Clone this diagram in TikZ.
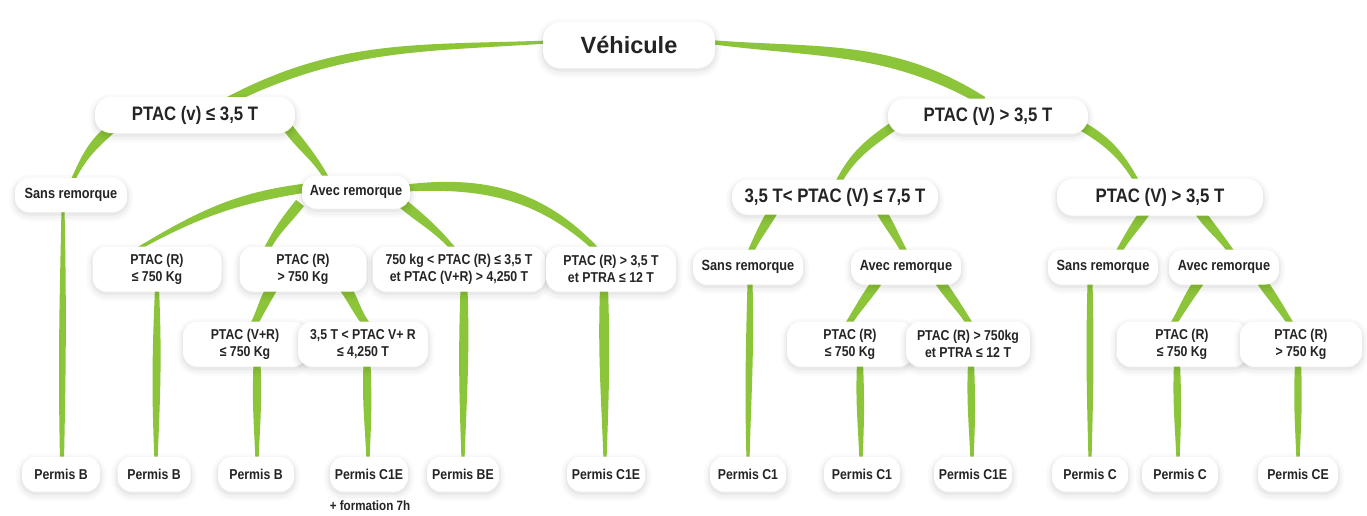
\documentclass[tikz,border=0pt]{standalone}
\usepackage{fontspec}
\newfontfamily\cond{Liberation Sans}[FakeStretch=0.86]
\newfontfamily\wideff{Liberation Sans}
\usetikzlibrary{calc}
\pgfdeclarelayer{bg}
\pgfsetlayers{bg,main}
\definecolor{leafc}{RGB}{140,196,58}
\definecolor{txt}{RGB}{36,36,36}
% #1 node A, #2 offset A, #3 node B, #4 offset B, #5 out angle, #6 in angle, #7 width A, #8 width B, #9 bulge
\newcommand\blade[9]{%
 \pgfmathsetmacro\bAl{#5+90}\pgfmathsetmacro\bAr{#5-90}%
 \pgfmathsetmacro\bBl{#6-90}\pgfmathsetmacro\bBr{#6+90}%
 \pgfmathsetmacro\bo{#5+#9}\pgfmathsetmacro\bi{#6-#9}%
 \pgfmathsetmacro\bob{#6+#9}\pgfmathsetmacro\bib{#5-#9}%
 \pgfmathsetmacro\hA{#7/2}\pgfmathsetmacro\hB{#8/2}%
 \fill[leafc] ($(#1)+(#2)+(\bAl:\hA)$) to[out=\bo,in=\bi] ($(#3)+(#4)+(\bBl:\hB)$) -- ($(#3)+(#4)+(\bBr:\hB)$) to[out=\bob,in=\bib] ($(#1)+(#2)+(\bAr:\hA)$) -- cycle;}
\begin{document}
\begin{tikzpicture}[x=1pt,y=1pt,
 box/.style={rectangle, rounded corners=14pt, fill=white, inner sep=0pt, align=center, text=txt,
   preaction={draw=black, line width=12pt, draw opacity=0.018, transform canvas={yshift=-3pt}},
   preaction={draw=black, line width=7pt, draw opacity=0.028, transform canvas={yshift=-3pt}},
   preaction={draw=black, line width=3pt, draw opacity=0.04, transform canvas={yshift=-2pt}}},
 big/.style={box, font=\cond\bfseries\fontsize{19.5}{22}\selectfont},
 mid/.style={box, font=\cond\bfseries\fontsize{14.8}{17}\selectfont, minimum height=34pt},
 two/.style={box, font=\cond\bfseries\fontsize{14.3}{17}\selectfont, minimum height=45pt},
 lic/.style={box, font=\cond\bfseries\fontsize{14.3}{16}\selectfont, minimum height=35pt}]
\useasboundingbox (0,0) rectangle (1367,-515);

% level 0 / 1
\node[box, font=\wideff\bfseries\fontsize{23.5}{27}\selectfont, minimum width=172pt, minimum height=46pt, rounded corners=17pt] (veh) at (629,-45) {Véhicule};
\node[big, minimum width=200pt, minimum height=36pt, rounded corners=16pt] (L1a) at (195,-115) {PTAC (v) ≤ 3,5 T};
\node[big, minimum width=200pt, minimum height=35pt, rounded corners=16pt] (L1b) at (988,-116) {PTAC (V) > 3,5 T};
% level 2
\node[mid, minimum width=112pt] (sansL) at (71,-195) {Sans remorque};
\node[mid, minimum width=108pt, minimum height=33pt] (avecL) at (356,-192) {Avec remorque};
\node[big, minimum width=206pt, minimum height=35pt, rounded corners=16pt] (midR) at (835,-197) {3,5 T< PTAC (V) ≤ 7,5 T};
\node[big, minimum width=206pt, minimum height=37pt, rounded corners=16pt] (farR) at (1160,-197) {PTAC (V) > 3,5 T};
% level 3 left
\node[two, minimum width=129pt] (r1) at (157,-269) {PTAC (R)\\≤ 750 Kg};
\node[two, minimum width=127pt] (r2) at (303,-269) {PTAC (R)\\> 750 Kg};
\node[two, minimum width=173pt] (r3) at (459,-269) {750 kg < PTAC (R) ≤ 3,5 T\\et PTAC (V+R) > 4,250 T};
\node[two, minimum width=130pt] (r4) at (611,-269) {PTAC (R) > 3,5 T\\et PTRA ≤ 12 T};
% level 3 right
\node[mid, minimum width=110pt, minimum height=35pt] (sansM) at (748,-267) {Sans remorque};
\node[mid, minimum width=110pt, minimum height=35pt] (avecM) at (906,-267) {Avec remorque};
\node[mid, minimum width=110pt, minimum height=35pt] (sansF) at (1103,-267) {Sans remorque};
\node[mid, minimum width=110pt, minimum height=35pt] (avecF) at (1224,-267) {Avec remorque};
% level 4
\node[two, minimum width=124pt] (v1) at (245,-344) {PTAC (V+R)\\≤ 750 Kg};
\node[two, minimum width=130pt] (v2) at (363,-344) {3,5 T < PTAC V+ R\\≤ 4,250 T};
\node[two, minimum width=126pt] (m1) at (850,-344) {PTAC (R)\\≤ 750 Kg};
\node[two, minimum width=124pt] (m2) at (968,-344) {PTAC (R) > 750kg\\et PTRA ≤ 12 T};
\node[two, minimum width=131pt] (f1) at (1182,-344) {PTAC (R)\\≤ 750 Kg};
\node[two, minimum width=122pt] (f2) at (1301,-344) {PTAC (R)\\> 750 Kg};
% licences
\node[lic, minimum width=78pt] (pB1) at (61,-474) {Permis B};
\node[lic, minimum width=73pt] (pB2) at (154,-474) {Permis B};
\node[lic, minimum width=76pt] (pB3) at (256,-474) {Permis B};
\node[lic, minimum width=78pt] (pC1E) at (369,-474) {Permis C1E};
\node[lic, minimum width=72pt] (pBE) at (463,-474) {Permis BE};
\node[lic, minimum width=78pt] (pC1Eb) at (606,-474) {Permis C1E};
\node[lic, minimum width=76pt] (pC1a) at (748,-474) {Permis C1};
\node[lic, minimum width=76pt] (pC1b) at (862,-474) {Permis C1};
\node[lic, minimum width=78pt] (pC1Ec) at (973,-474) {Permis C1E};
\node[lic, minimum width=76pt] (pCa) at (1090,-474) {Permis C};
\node[lic, minimum width=76pt] (pCb) at (1180,-474) {Permis C};
\node[lic, minimum width=80pt] (pCE) at (1298,-474) {Permis CE};
\node[font=\cond\bfseries\fontsize{13.5}{15}\selectfont, text=txt, inner sep=0pt] (form) at (370,-506) {+ formation 7h};

\begin{pgfonlayer}{bg}
\fill[white] (0,0) rectangle (1367,-515);
\blade{veh}{-81,3}{L1a}{33,14}{183}{27}{3}{8}{0.8}
\blade{veh}{81,3}{L1b}{-5,15}{354}{149}{4}{9}{1.5}
\blade{L1a}{-83,-13}{sansL}{1,13}{220}{65}{10}{4}{1}
\blade{L1a}{93,-13}{avecL}{-29,13}{307}{120}{10}{5}{1}
\blade{sansL}{-8,-13}{pB1}{1,13}{270}{90}{3}{4}{1.2}
\blade{avecL}{-50,4}{r1}{-23,18}{188}{30}{9}{3}{1}
\blade{avecL}{-56,-11}{r2}{-37,18}{232}{63}{10}{6}{0.5}
\blade{avecL}{46,-11}{r3}{-4,18}{320}{130}{10}{5}{0.5}
\blade{avecL}{50,4}{r4}{-13,18}{5}{135}{7}{5}{2}
\blade{r1}{0,-19}{pB2}{2,13}{270}{90}{4}{3}{2.5}
\blade{r2}{-31,-19}{v1}{8,18}{240}{62}{11}{7}{0.5}
\blade{r2}{42,-19}{v2}{5,18}{305}{130}{11}{7}{0.5}
\blade{r3}{5,-19}{pBE}{0,13}{270}{90}{7}{3}{2}
\blade{r4}{-7,-19}{pC1Eb}{-1,13}{270}{90}{8}{3}{2}
\blade{v1}{12,-19}{pB3}{1,13}{270}{90}{7}{3}{2.5}
\blade{v2}{4,-19}{pC1E}{-1,13}{270}{90}{7}{3}{2.5}
\blade{L1b}{-93,-9}{midR}{3,14}{215}{62}{9}{6}{1}
\blade{L1b}{92,-9}{farR}{-23,15}{330}{120}{9}{5}{1}
\blade{midR}{-62,-14}{sansM}{2,14}{240}{65}{10}{6}{0.5}
\blade{midR}{46,-14}{avecM}{-1,14}{300}{118}{10}{6}{0.5}
\blade{sansM}{2,-15}{pC1a}{0,13}{270}{90}{5}{3}{1.5}
\blade{avecM}{-29,-15}{m1}{-3,18}{235}{58}{10}{6}{0.5}
\blade{avecM}{34,-15}{m2}{3,18}{305}{122}{10}{6}{0.5}
\blade{m1}{10,-19}{pC1b}{-1,13}{270}{90}{6}{3}{2.5}
\blade{m2}{3,-19}{pC1Ec}{-1,13}{270}{90}{6}{3}{2.5}
\blade{farR}{-14,-14}{sansF}{15,14}{235}{60}{10}{6}{0.5}
\blade{farR}{39,-14}{avecF}{8,14}{305}{125}{10}{6}{0.5}
\blade{sansF}{-13,-15}{pCa}{0,13}{270}{90}{5}{3}{1.5}
\blade{avecF}{-25,-15}{f1}{-10,18}{235}{58}{10}{6}{0.5}
\blade{avecF}{38,-15}{f2}{-9,18}{305}{122}{10}{6}{0.5}
\blade{f1}{-5,-19}{pCb}{-2,13}{270}{90}{6}{3}{2.5}
\blade{f2}{-3,-19}{pCE}{0,13}{270}{90}{6}{3}{2.5}
\end{pgfonlayer}
\end{tikzpicture}
\end{document}
